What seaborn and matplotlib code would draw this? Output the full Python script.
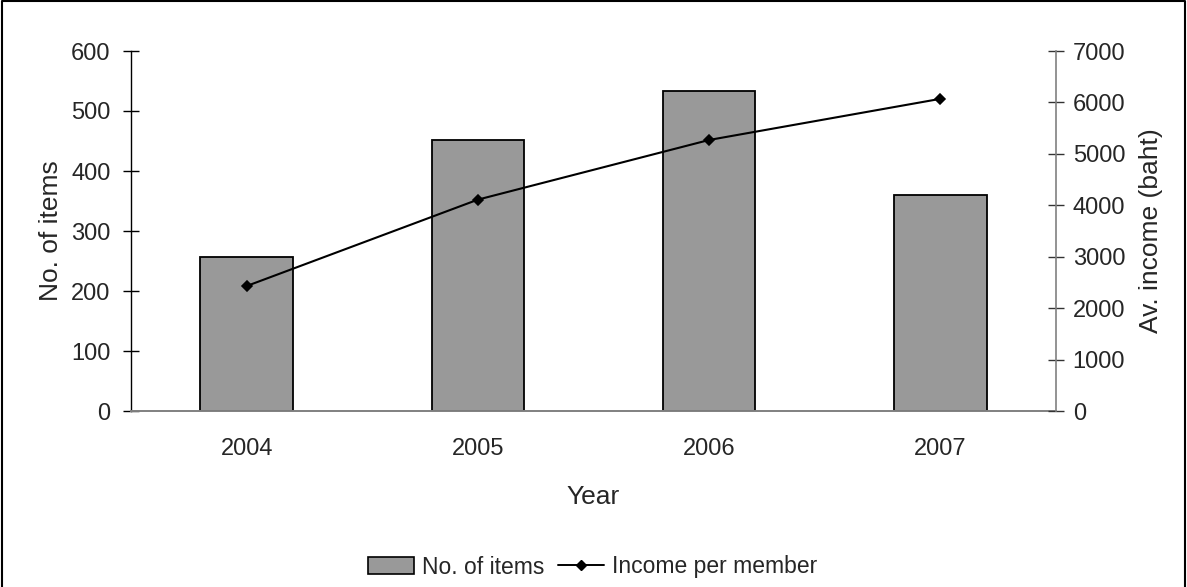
import matplotlib
matplotlib.use("Agg")
import matplotlib.pyplot as plt
import seaborn as sns
import numpy as np
import pandas as pd
from matplotlib.patches import Patch
from matplotlib.lines import Line2D

years = ["2004", "2005", "2006", "2007"]
items = [257, 452, 533, 360]
income = [2430, 4110, 5270, 6070]
left_ticks = [0, 100, 200, 300, 400, 500, 600]
right_ticks = [0, 1000, 2000, 3000, 4000, 5000, 6000, 7000]

sns.set_theme(style="white")
plt.rcParams['font.family'] = ['Liberation Sans', 'DejaVu Sans']
TFS = 17
LFS = 19
GFS = 16.5

df = pd.DataFrame({"Year": years, "Items": items, "Income": income})

fig = plt.figure(figsize=(11.87, 5.87), dpi=100)
ax = fig.add_axes([131/1187, 1-411/587, (1056-131)/1187, 360/587])

sns.barplot(data=df, x="Year", y="Items", ax=ax, color="#999999",
            edgecolor="black", linewidth=1.3, width=0.4, saturation=1)

ax2 = ax.twinx()
sns.pointplot(data=df, x="Year", y="Income", ax=ax2, color="black",
              markers="D", markersize=5.5, linewidth=1.5)

for a in (ax, ax2):
    a.set_xlim(-0.5, 3.5)
ax.set_ylim(0, 600)
ax2.set_ylim(0, 7000)
ax.set_yticks(left_ticks)
ax2.set_yticks(right_ticks)
ax.set_yticklabels([str(t) for t in left_ticks], fontsize=TFS)
ax2.set_yticklabels([str(t) for t in right_ticks], fontsize=TFS)

ax.set_xticks(range(4))
ax.set_xticklabels(years, fontsize=TFS)
ax.set_xticks([-0.5, 0.5, 1.5, 2.5, 3.5], minor=True)
ax.tick_params(axis="x", which="major", length=0, pad=19.5)
ax.tick_params(axis="x", which="minor", length=11.5, width=1, direction="inout", color="#333333")
ax.tick_params(axis="y", length=11, width=1, direction="inout", color="black", pad=9.3, left=True)
ax2.tick_params(axis="y", length=11, width=1, direction="inout", color="#333333", pad=6.5, right=True)

for a in (ax, ax2):
    a.spines["top"].set_visible(False)
    a.grid(False)
ax.spines["right"].set_visible(False)
ax.spines["left"].set_color("black")
ax.spines["bottom"].set_color("#808080")
ax2.spines["left"].set_visible(False)
ax2.spines["bottom"].set_visible(False)
ax2.spines["right"].set_color("#808080")
ax.spines["left"].set_linewidth(1.0)
ax.spines["bottom"].set_linewidth(1.4)
ax2.spines["right"].set_linewidth(1.2)

ax.set_xlabel("Year", fontsize=LFS, labelpad=18)
ax.set_ylabel("No. of items", fontsize=LFS, labelpad=6)
ax2.set_ylabel("Av. income (baht)", fontsize=LFS, labelpad=10)

handles = [Patch(facecolor="#999999", edgecolor="black", linewidth=1.2),
           Line2D([], [], color="black", marker="D", markersize=5, linewidth=1.4)]
fig.legend(handles, ["No. of items", "Income per member"], loc="center",
           bbox_to_anchor=(593/1187, 1-567/587), ncol=2, frameon=False,
           fontsize=GFS, handlelength=2.0, handletextpad=0.35, columnspacing=0.6)

# outer frame (left, top, right)
fig.add_artist(Line2D([0.0015, 0.0015, 0.9985, 0.9985], [0.0, 0.998, 0.998, 0.0],
                      transform=fig.transFigure, color="black", linewidth=1.5))

fig.savefig("out.png", dpi=100)
